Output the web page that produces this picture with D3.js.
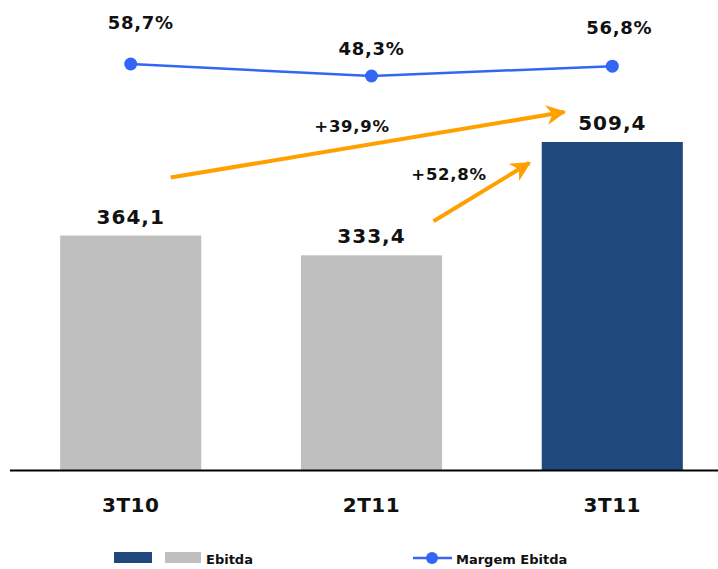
<!DOCTYPE html>
<html>
<head>
<meta charset="utf-8">
<script src="https://cdn.jsdelivr.net/npm/d3@7"></script>
<style>
  body { margin: 0; background: #fff; }
  text { font-family: "DejaVu Sans", Verdana, sans-serif; font-weight: bold; fill: #111; }
</style>
</head>
<body>
<div id="chart"></div>
<script>

var categories = ["3T10", "2T11", "3T11"];
var ebitda = [364.1, 333.4, 509.4];
var ebitdaLabels = ["364,1", "333,4", "509,4"];
var margem = [58.7, 48.3, 56.8];
var margemLabels = ["58,7%", "48,3%", "56,8%"];
var growthLabels = ["+39,9%", "+52,8%"];

var width = 718, height = 569;
var baseY = 470;

var svg = d3.select("#chart")
    .append("svg")
    .attr("width", width)
    .attr("height", height);

var x = d3.scaleBand()
    .domain(categories)
    .range([12, 731])
    .paddingInner(0.414)
    .paddingOuter(0.2);

var y = d3.scaleLinear()
    .domain([0, 509.4])
    .range([baseY, 142]);

// margin line sits in its own small band at the top
var ym = d3.scaleLinear()
    .domain([48.3, 58.7])
    .range([76, 64]);

var cx = function(d){ return x(d) + x.bandwidth() / 2; };

// bars
svg.selectAll(".bar")
    .data(ebitda)
    .enter().append("rect")
    .attr("class", "bar")
    .attr("x", function(d, i){ return x(categories[i]); })
    .attr("y", function(d){ return y(d); })
    .attr("width", x.bandwidth())
    .attr("height", function(d){ return baseY - y(d); })
    .attr("fill", function(d, i){ return i == 2 ? "#1f497d" : "#bfbfbf"; });

// baseline
svg.append("line")
    .attr("x1", 10).attr("x2", 718)
    .attr("y1", baseY + 0.5).attr("y2", baseY + 0.5)
    .attr("stroke", "#000")
    .attr("stroke-width", 2);

// bar value labels
svg.selectAll(".val")
    .data(ebitdaLabels)
    .enter().append("text")
    .attr("x", function(d, i){ return cx(categories[i]); })
    .attr("y", function(d, i){ return y(ebitda[i]) - 12; })
    .attr("text-anchor", "middle")
    .style("font-size", "20px")
    .style("letter-spacing", "1px")
    .text(function(d){ return d; });

// category labels
svg.selectAll(".cat")
    .data(categories)
    .enter().append("text")
    .attr("x", function(d){ return cx(d); })
    .attr("y", 512)
    .attr("text-anchor", "middle")
    .style("font-size", "20px")
    .style("letter-spacing", "0.5px")
    .text(function(d){ return d; });

// margem line
var line = d3.line()
    .x(function(d, i){ return cx(categories[i]); })
    .y(function(d){ return ym(d); });

svg.append("path")
    .datum(margem)
    .attr("d", line)
    .attr("fill", "none")
    .attr("stroke", "#3366f5")
    .attr("stroke-width", 2.5);

svg.selectAll(".dot")
    .data(margem)
    .enter().append("circle")
    .attr("cx", function(d, i){ return cx(categories[i]); })
    .attr("cy", function(d){ return ym(d); })
    .attr("r", 6.5)
    .attr("fill", "#3366f5");

var mOffset = [[10, -35], [0, -21], [7, -32]];
svg.selectAll(".mlab")
    .data(margemLabels)
    .enter().append("text")
    .attr("x", function(d, i){ return cx(categories[i]) + mOffset[i][0]; })
    .attr("y", function(d, i){ return ym(margem[i]) + mOffset[i][1]; })
    .attr("text-anchor", "middle")
    .style("font-size", "18px")
    .style("letter-spacing", "0.7px")
    .text(function(d){ return d; });

// growth arrows
var defs = svg.append("defs");
defs.append("marker")
    .attr("id", "head")
    .attr("viewBox", "0 0 10 10")
    .attr("refX", 9).attr("refY", 5)
    .attr("markerWidth", 5).attr("markerHeight", 5)
    .attr("orient", "auto")
    .append("path")
    .attr("d", "M0,0 L10,5 L0,10 L3,5 Z")
    .attr("fill", "#ffa000");

var arrows = [
    { x1: cx("3T10") + 40, y1: y(364.1) - 58, x2: cx("3T11") - 48, y2: y(509.4) - 30 },
    { x1: cx("2T11") + 62, y1: y(333.4) - 34, x2: cx("3T11") - 83, y2: y(509.4) + 21 }
];

svg.selectAll(".arrow")
    .data(arrows)
    .enter().append("line")
    .attr("x1", function(d){ return d.x1; })
    .attr("y1", function(d){ return d.y1; })
    .attr("x2", function(d){ return d.x2; })
    .attr("y2", function(d){ return d.y2; })
    .attr("stroke", "#ffa000")
    .attr("stroke-width", 4)
    .attr("marker-end", "url(#head)");

var gPos = [[352, 132], [449, 180]];
svg.selectAll(".glab")
    .data(growthLabels)
    .enter().append("text")
    .attr("x", function(d, i){ return gPos[i][0]; })
    .attr("y", function(d, i){ return gPos[i][1]; })
    .attr("text-anchor", "middle")
    .style("font-size", "16.5px")
    .style("letter-spacing", "0.7px")
    .text(function(d){ return d; });

// legend
var leg = svg.append("g");
leg.append("rect").attr("x", 114).attr("y", 552).attr("width", 38).attr("height", 11).attr("fill", "#1f497d");
leg.append("rect").attr("x", 165).attr("y", 552).attr("width", 36).attr("height", 11).attr("fill", "#bfbfbf");
leg.append("text").attr("x", 206).attr("y", 564).style("font-size", "13px").text("Ebitda");
leg.append("line").attr("x1", 413).attr("x2", 452).attr("y1", 558).attr("y2", 558)
    .attr("stroke", "#3366f5").attr("stroke-width", 2.5);
leg.append("circle").attr("cx", 432).attr("cy", 558).attr("r", 6).attr("fill", "#3366f5");
leg.append("text").attr("x", 456).attr("y", 564).style("font-size", "13px").text("Margem Ebitda");

</script>
</body>
</html>
